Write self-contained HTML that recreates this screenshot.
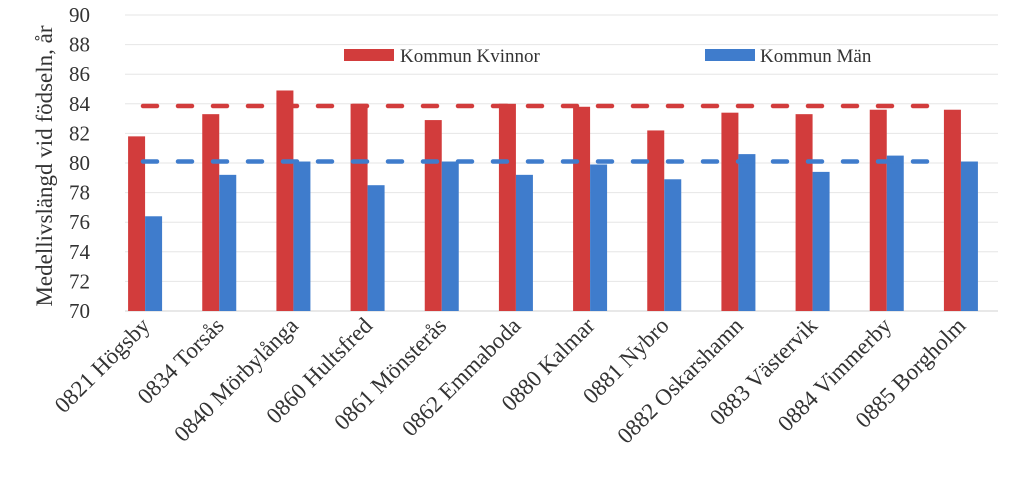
<!DOCTYPE html>
<html><head><meta charset="utf-8"><style>
body{margin:0;background:#fff}
svg{display:block;font-family:"Liberation Serif",serif}
</style></head><body>
<svg id="chart" width="1024" height="483" viewBox="0 0 1024 483">
<text transform="translate(52,166) rotate(-90)" text-anchor="middle" font-size="23" fill="#333">Medellivslängd vid födseln, år</text>
<g id="grid"></g>
<g id="ylabels"></g>
<g id="bars"></g>
<g id="refs"></g>
<g id="xlabels"></g>
<g>
<g><rect x="344" y="49" width="50" height="12" fill="#d23c3c"/><text x="400" y="62" font-size="19" fill="#333">Kommun Kvinnor</text></g>
<g><rect x="705" y="49" width="50" height="12" fill="#3f7ccc"/><text x="760" y="62" font-size="19" fill="#333">Kommun Män</text></g>
</g>
</svg>
<script>
const categories=["0821 Högsby","0834 Torsås","0840 Mörbylånga","0860 Hultsfred","0861 Mönsterås","0862 Emmaboda","0880 Kalmar","0881 Nybro","0882 Oskarshamn","0883 Västervik","0884 Vimmerby","0885 Borgholm"];
const kvinnor=[81.8,83.3,84.9,84.0,82.9,84.0,83.8,82.2,83.4,83.3,83.6,83.6];
const man=[76.4,79.2,80.1,78.5,80.1,79.2,79.9,78.9,80.6,79.4,80.5,80.1];
const refKvinnor=83.85;
const refMan=80.1;
const yTicks=[70,72,74,76,78,80,82,84,86,88,90];
const NS="http://www.w3.org/2000/svg";
const gx0=125,x0=108,x1=998,yTop=15,yBot=311,vMin=70,vMax=90;
const y=v=>yBot-(v-vMin)/(vMax-vMin)*(yBot-yTop);
const gw=(x1-x0)/categories.length;
const bw=17;
function mk(tag,attrs,parent){const e=document.createElementNS(NS,tag);for(const k in attrs)e.setAttribute(k,attrs[k]);parent.appendChild(e);return e;}
const grid=document.getElementById('grid'),yl=document.getElementById('ylabels'),bars=document.getElementById('bars'),refs=document.getElementById('refs'),xl=document.getElementById('xlabels');
yTicks.forEach(t=>{
 const l=mk('line',{x1:gx0,x2:x1,y1:y(t),y2:y(t),stroke:t===70?'#d0d0d0':'#e6e6e6','stroke-width':1},grid);
 
 
 const tx=mk('text',{x:90,y:y(t)+7,'text-anchor':'end','font-size':21,fill:'#333'},yl);
 tx.textContent=t;
 
 
});
categories.forEach((c,i)=>{
 const cx=x0+gw*i+gw/2;
 const r=mk('rect',{x:cx-bw,y:y(kvinnor[i]),width:bw,height:yBot-y(kvinnor[i]),fill:'#d23c3c'},bars);
 
 
 const b=mk('rect',{x:cx,y:y(man[i]),width:bw,height:yBot-y(man[i]),fill:'#3f7ccc'},bars);
 
 
 const tx=mk('text',{transform:`translate(${cx+6},${yBot+16}) rotate(-45)`,'text-anchor':'end','font-size':23,fill:'#333'},xl);
 tx.textContent=c;
 
 
});
const rx0=143,rx1=947;
const rk=mk('line',{x1:rx0,x2:rx1,y1:y(refKvinnor),y2:y(refKvinnor),stroke:'#d23c3c','stroke-width':4.5,'stroke-dasharray':'14 21','stroke-linecap':'round'},refs);


const rm=mk('line',{x1:rx0,x2:rx1,y1:y(refMan),y2:y(refMan),stroke:'#3f7ccc','stroke-width':4.5,'stroke-dasharray':'14 21','stroke-linecap':'round'},refs);


</script>
</body></html>
